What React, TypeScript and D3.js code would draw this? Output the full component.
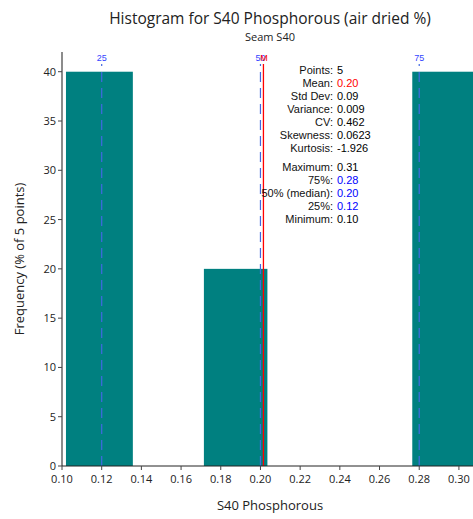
import React from "react";
import * as d3 from "d3";

// histogram bins (S40 Phosphorous, % of 5 points)
const binStarts = [0.102, 0.1715, 0.2765];
const binEnds = [0.1357, 0.2035, 0.31];
const binFreq = [40, 20, 40];

const yTicks = [0, 5, 10, 15, 20, 25, 30, 35, 40];
const xTicks = [0.1, 0.12, 0.14, 0.16, 0.18, 0.2, 0.22, 0.24, 0.26, 0.28, 0.3];

const quartileNames = ["25", "50", "75"];
const quartileValues = [0.12, 0.2, 0.28];
const meanValue = 0.2015;

const statLabels = ["Points:", "Mean:", "Std Dev:", "Variance:", "CV:", "Skewness:", "Kurtosis:", "", "Maximum:", "75%:", "50% (median):", "25%:", "Minimum:"];
const statValues = ["5", "0.20", "0.09", "0.009", "0.462", "0.0623", "-1.926", "", "0.31", "0.28", "0.20", "0.12", "0.10"];
const statColors = ["#000", "red", "#000", "#000", "#000", "#000", "#000", "", "#000", "blue", "blue", "blue", "#000"];

const W = 473;
const H = 519;
const margin = { top: 52, right: 0, bottom: 53, left: 62 };

export default function App() {
  const x = d3.scaleLinear().domain([0.1, 0.3071]).range([margin.left, W - margin.right]);
  const y = d3.scaleLinear().domain([0, 42]).range([H - margin.bottom, margin.top]);
  const y0 = y(0);
  const font = "'Open Sans', 'Noto Sans', sans-serif";
  const arial = "'Liberation Sans', Arial, sans-serif";

  return (
    <svg width={W} height={H} style={{ position: "absolute", left: 0, top: 0, background: "#fff" }}>
      <text x={270} y={24} textAnchor="middle" fontFamily={font} fontSize={15.5} fill="#222">
        Histogram for S40 Phosphorous (air dried %)
      </text>
      <text x={270} y={41} textAnchor="middle" fontFamily={font} fontSize={11} fill="#222">
        Seam S40
      </text>

      {/* bars */}
      {binStarts.map((s, i) => (
        <rect key={i} x={x(s)} y={y(binFreq[i])} width={x(binEnds[i]) - x(s)} height={y0 - y(binFreq[i])} fill="#008080" />
      ))}

      {/* quartile lines */}
      {quartileValues.map((q, i) => (
        <g key={i}>
          <line x1={x(q)} x2={x(q)} y1={y0} y2={64} stroke="#4169e1" strokeWidth={1.2} strokeDasharray="10,6" />
          <text x={x(q)} y={61} textAnchor="middle" fontFamily={arial} fontSize={9} fill="#3344ff">
            {quartileNames[i]}
          </text>
        </g>
      ))}
      <line x1={x(meanValue)} x2={x(meanValue)} y1={y0} y2={64} stroke="red" strokeWidth={1.3} />
      <text x={x(meanValue) + 0.5} y={61} textAnchor="middle" fontFamily={arial} fontSize={9} fill="red">M</text>

      {/* stats */}
      {statLabels.map((l, i) => {
        if (l === "") return null;
        const yy = 74 + i * 13 - (i > 7 ? 7 : 0);
        return (
          <g key={i} fontFamily={arial} fontSize={11}>
            <text x={333} y={yy} textAnchor="end" fill="#111">{l}</text>
            <text x={337} y={yy} fill={statColors[i]}>{statValues[i]}</text>
          </g>
        );
      })}

      {/* y axis */}
      <line x1={margin.left} x2={margin.left} y1={margin.top} y2={y0} stroke="#666" strokeWidth={1.5} />
      {yTicks.map((t) => (
        <g key={t}>
          <line x1={margin.left - 4} x2={margin.left} y1={y(t)} y2={y(t)} stroke="#444" />
          <text x={margin.left - 6} y={y(t) + 4} textAnchor="end" fontFamily={font} fontSize={11} fill="#222">{t}</text>
        </g>
      ))}
      <text transform={`translate(24,${(margin.top + y0) / 2}) rotate(-90)`} textAnchor="middle" fontFamily={font} fontSize={13} fill="#222">
        Frequency (% of 5 points)
      </text>

      {/* x axis */}
      <line x1={margin.left} x2={W} y1={y0} y2={y0} stroke="#222" strokeWidth={1} />
      {xTicks.map((t) => (
        <g key={t}>
          <line x1={x(t)} x2={x(t)} y1={y0} y2={y0 + 4} stroke="#444" />
          <text x={x(t)} y={y0 + 17} textAnchor="middle" fontFamily={font} fontSize={11} fill="#222">{d3.format(".2f")(t)}</text>
        </g>
      ))}
      <text x={270} y={510} textAnchor="middle" fontFamily={font} fontSize={13} fill="#222">S40 Phosphorous</text>
    </svg>
  );
}
